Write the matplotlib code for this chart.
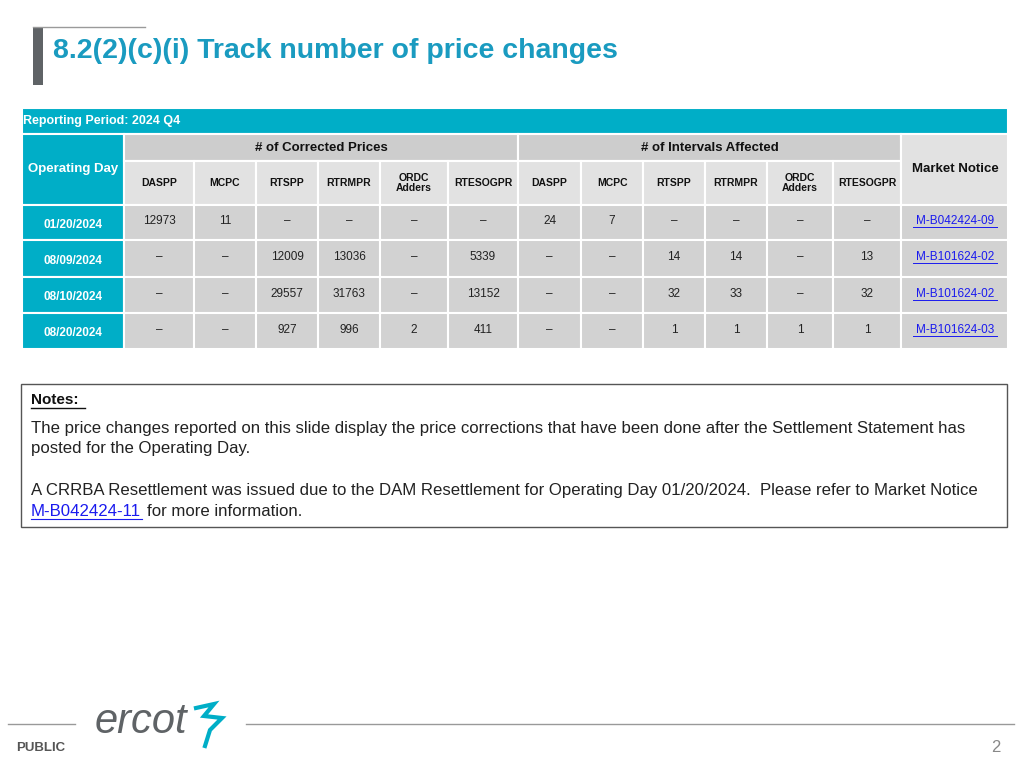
import matplotlib
matplotlib.use("Agg")
import matplotlib.pyplot as plt
from matplotlib.patches import Rectangle

title = "8.2(2)(c)(i) Track number of price changes"
period = "Reporting Period: 2024 Q4"
groups = ["# of Corrected Prices", "# of Intervals Affected"]
subcols = ["DASPP", "MCPC", "RTSPP", "RTRMPR", "ORDC\nAdders", "RTESOGPR"]
days = ["01/20/2024", "08/09/2024", "08/10/2024", "08/20/2024"]
corrected = [["12973", "11", "–", "–", "–", "–"],
             ["–", "–", "12009", "13036", "–", "5339"],
             ["–", "–", "29557", "31763", "–", "13152"],
             ["–", "–", "927", "996", "2", "411"]]
intervals = [["24", "7", "–", "–", "–", "–"],
             ["–", "–", "14", "14", "–", "13"],
             ["–", "–", "32", "33", "–", "32"],
             ["–", "–", "1", "1", "1", "1"]]
notices = ["M-B042424-09", "M-B101624-02", "M-B101624-02", "M-B101624-03"]

TEAL = "#00aec7"
FONT = "Liberation Sans"
fig = plt.figure(figsize=(10.24, 7.68), dpi=100)
ax = fig.add_axes([0, 0, 1, 1])
ax.set_xlim(0, 1024); ax.set_ylim(768, 0); ax.axis("off")

def cell(x0, x1, y0, y1, fc):
    ax.add_patch(Rectangle((x0, y0), x1 - x0, y1 - y0, fc=fc, ec="white", lw=1.5))

# title
ax.add_patch(Rectangle((33, 27), 10, 58, fc="#5f6366", ec="none"))
ax.plot([33, 145], [27, 27], color="#9a9a9a", lw=1)
ax.text(53, 51, title, fontsize=20.5, fontweight="bold", color="#1a9bc0", va="center", family=FONT)

# table
xs = [22, 124, 194, 256, 318, 380, 448, 518, 581, 643, 705, 767, 833, 901, 1008]
cell(22, 1008, 108, 134, TEAL)
ax.text(23, 121, period, color="white", fontsize=9, fontweight="bold", va="center", family=FONT)
cell(22, 124, 134, 205, TEAL)
ax.text(73, 169, "Operating Day", color="white", fontsize=9.5, fontweight="bold", ha="center", va="center", family=FONT)
for g, (a, b) in enumerate([(124, 518), (518, 901)]):
    cell(a, b, 134, 161, "#cdcdcd")
    ax.text((a + b) / 2, 148, groups[g], fontsize=9.5, fontweight="bold", ha="center", va="center", family=FONT, color="#111")
for i in range(12):
    cell(xs[i + 1], xs[i + 2], 161, 205, "#e2e2e2")
    ax.text((xs[i + 1] + xs[i + 2]) / 2, 183, subcols[i % 6], fontsize=7.5, fontweight="bold", ha="center", va="center", family=FONT, color="#111", linespacing=1.1)
cell(901, 1008, 134, 205, "#e2e2e2")
ax.text(955, 169, "Market Notice", fontsize=9.5, fontweight="bold", ha="center", va="center", family=FONT, color="#111")

ys = [205, 240, 277, 313, 349]
for r in range(4):
    y0, y1 = ys[r], ys[r + 1]
    yc = (y0 + y1) / 2
    cell(22, 124, y0, y1, TEAL)
    ax.text(73, yc + 2, days[r], color="white", fontsize=8.5, fontweight="bold", ha="center", va="center", family=FONT)
    vals = corrected[r] + intervals[r]
    for i in range(12):
        cell(xs[i + 1], xs[i + 2], y0, y1, "#d2d2d2")
        ax.text((xs[i + 1] + xs[i + 2]) / 2, yc - 1, vals[i], fontsize=8.5, ha="center", va="center", family=FONT, color="#222")
    cell(901, 1008, y0, y1, "#d2d2d2")
    ax.text(955, yc - 1, notices[r], fontsize=8.5, ha="center", va="center", family=FONT, color="#1a1aee")
    ax.plot([913, 997], [yc + 4.5, yc + 4.5], color="#1a1aee", lw=0.7)

# notes
ax.add_patch(Rectangle((21, 384), 986, 143, fc="white", ec="#555", lw=1))
ax.text(31, 400, "Notes:", fontsize=11, fontweight="bold", va="center", family=FONT, color="#111")
ax.plot([31, 85], [408, 408], color="#111", lw=1)
fs = 12.1
ax.text(31, 429, "The price changes reported on this slide display the price corrections that have been done after the Settlement Statement has", fontsize=fs, va="center", family=FONT, color="#222")
ax.text(31, 449, "posted for the Operating Day.", fontsize=fs, va="center", family=FONT, color="#222")
ax.text(31, 491, "A CRRBA Resettlement was issued due to the DAM Resettlement for Operating Day 01/20/2024.  Please refer to Market Notice", fontsize=fs, va="center", family=FONT, color="#222")
ax.text(31, 511, "M-B042424-11", fontsize=fs, va="center", family=FONT, color="#1a1aee")
ax.plot([31, 142], [519, 519], color="#1a1aee", lw=0.8)
ax.text(147, 511, "for more information.", fontsize=fs, va="center", family=FONT, color="#222")

# footer
ax.plot([8, 75], [724, 724], color="#999", lw=1)
ax.plot([246, 1014], [724, 724], color="#999", lw=1)
ax.text(16, 748, "PUBLIC", fontsize=9.5, fontweight="bold", va="center", family=FONT, color="#555")
ax.text(95, 722, "ercot", fontsize=30, fontstyle="italic", va="center", family=FONT, color="#5f6366")
ax.plot([196, 214, 204, 222, 210, 205], [708, 704, 716, 718, 730, 746], color=TEAL, lw=3, solid_joinstyle="miter")
ax.text(1000, 747, "2", fontsize=12, ha="right", va="center", family=FONT, color="#888")

fig.savefig("out.png", dpi=100)
